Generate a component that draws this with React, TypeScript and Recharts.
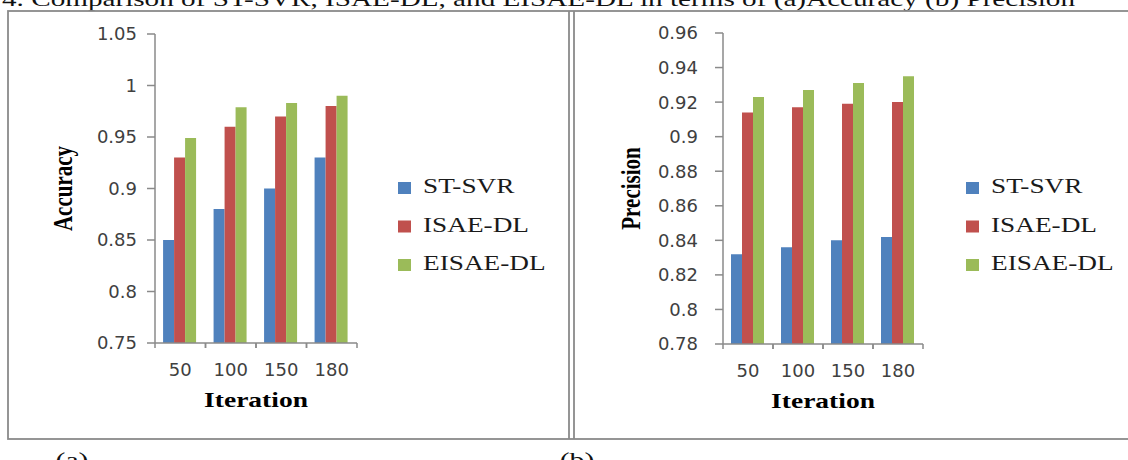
import React from 'react';
import { BarChart, Bar, XAxis, YAxis, Legend } from 'recharts';

const iterations = ['50', '100', '150', '180'];
const accStSvr = [0.85, 0.88, 0.9, 0.93];
const accIsae = [0.93, 0.96, 0.97, 0.98];
const accEisae = [0.949, 0.979, 0.983, 0.99];
const precStSvr = [0.832, 0.836, 0.84, 0.842];
const precIsae = [0.914, 0.917, 0.919, 0.92];
const precEisae = [0.923, 0.927, 0.931, 0.935];
const accTicks = [0.75, 0.8, 0.85, 0.9, 0.95, 1, 1.05];
const precTicks = [0.78, 0.8, 0.82, 0.84, 0.86, 0.88, 0.9, 0.92, 0.94, 0.96];
const seriesNames = ['ST-SVR', 'ISAE-DL', 'EISAE-DL'];
const seriesColors = ['#4F81BD', '#C0504D', '#9BBB59'];
const caption = '4. Comparison of ST-SVR, ISAE-DL, and EISAE-DL in terms of (a)Accuracy (b) Precision';

const accData = iterations.map((it, i) => ({ iteration: it, s0: accStSvr[i], s1: accIsae[i], s2: accEisae[i] }));
const precData = iterations.map((it, i) => ({ iteration: it, s0: precStSvr[i], s1: precIsae[i], s2: precEisae[i] }));

const AXIS = '#8a8a8a';
const SERIF = '"Liberation Serif", "Times New Roman", serif';
const SANS = '"DejaVu Sans", Verdana, sans-serif';

const fmt = (v: number) => String(Number(v.toFixed(2)));

const XTick = (props: any) => {
  const { x, y, payload, half } = props;
  const axisY = y - 5;
  return (
    <g>
      <line x1={x - half} x2={x - half} y1={axisY} y2={axisY + 5} stroke={AXIS} strokeWidth={1.5} />
      <line x1={x + half} x2={x + half} y1={axisY} y2={axisY + 5} stroke={AXIS} strokeWidth={1.5} />
      <text x={x} y={axisY + 33} textAnchor="middle" fontFamily={SANS} fontSize={18} fill="#404040">
        {payload.value}
      </text>
    </g>
  );
};

const YTitle = (props: any) => {
  const { viewBox, text, bx } = props;
  const cy = viewBox.y + viewBox.height / 2;
  const x = viewBox.x + bx;
  return (
    <text
      transform={`translate(${x},${cy}) rotate(-90) scale(1,1.3)`}
      textAnchor="middle"
      fontFamily={SERIF}
      fontWeight="bold"
      fontSize={21}
      fill="#000"
    >
      {text}
    </text>
  );
};

const XTitle = (props: any) => {
  const { viewBox, text, dy } = props;
  const cx = viewBox.x + viewBox.width / 2;
  return (
    <text
      transform={`translate(${cx},${viewBox.y + dy}) scale(1.31,1)`}
      textAnchor="middle"
      fontFamily={SERIF}
      fontWeight="bold"
      fontSize={21}
      fill="#000"
    >
      {text}
    </text>
  );
};

const LegendBox = (props: any) => {
  const payload = [...(props.payload || [])].sort(
    (a: any, b: any) => seriesNames.indexOf(a.value) - seriesNames.indexOf(b.value)
  );
  return (
    <svg width={180} height={110} style={{ display: 'block', overflow: 'visible' }}>
      {payload.map((e: any, i: number) => {
        const by = 23 + i * 38.5;
        return (
          <g key={e.value}>
            <rect x={0} y={by - 11} width={13} height={12} fill={e.color} />
            <text transform={`translate(25,${by}) scale(1.24,1)`} fontFamily={SERIF} fontSize={22} fill="#1a1a1a">
              {e.value}
            </text>
          </g>
        );
      })}
    </svg>
  );
};

type PanelProps = {
  data: any[];
  ticks: number[];
  yLabel: string;
  width: number;
  yAxisWidth: number;
  top: number;
  right: number;
  bottom: number;
  tickMargin: number;
  yLabelX: number;
  legendLeft: number;
  legendTop: number;
  plotWidth: number;
  xTitleDy: number;
};

const Panel = (p: PanelProps) => {
  const half = p.plotWidth / iterations.length / 2;
  return (
    <BarChart
      width={p.width}
      height={440}
      data={p.data}
      margin={{ top: p.top, right: p.right, bottom: p.bottom, left: 0 }}
      barGap={0}
      barCategoryGap="16%"
    >
      <XAxis
        dataKey="iteration"
        height={60}
        axisLine={{ stroke: AXIS, strokeWidth: 1.5 }}
        tickLine={false}
        tickSize={5}
        tickMargin={0}
        interval={0}
        tick={(tp: any) => <XTick {...tp} half={half} />}
        label={<XTitle text="Iteration" dy={64} />}
      />
      <YAxis
        width={p.yAxisWidth}
        domain={[p.ticks[0], p.ticks[p.ticks.length - 1]]}
        ticks={p.ticks}
        interval={0}
        tickFormatter={fmt}
        axisLine={{ stroke: AXIS, strokeWidth: 1.5 }}
        tickLine={{ stroke: AXIS, strokeWidth: 1.5 }}
        tickSize={8}
        tickMargin={p.tickMargin}
        tick={{ fontFamily: SANS, fontSize: 18, fill: '#404040' }}
        label={<YTitle text={p.yLabel} bx={p.yLabelX} />}
      />
      <Legend
        layout="vertical"
        align="center"
        verticalAlign="middle"
        wrapperStyle={{ left: p.legendLeft, top: p.legendTop, width: 180, height: 110 }}
        content={<LegendBox />}
      />
      {seriesNames.map((n, i) => (
        <Bar key={n} dataKey={`s${i}`} name={n} fill={seriesColors[i]} isAnimationActive={false} />
      ))}
    </BarChart>
  );
};

export default function App() {
  return (
    <div
      style={{
        position: 'absolute',
        left: 0,
        top: 0,
        width: 1128,
        height: 460,
        overflow: 'hidden',
        background: '#fff',
      }}
    >
      <svg width={1128} height={460} style={{ position: 'absolute', left: 0, top: 0 }}>
        <text x={2} y={6} fontFamily={SERIF} fontSize={22} fill="#111" textLength={1073} lengthAdjust="spacingAndGlyphs">
          {caption}
        </text>
        <rect x={8} y={11} width={1130} height={428} fill="none" stroke={AXIS} strokeWidth={1.8} />
        <line x1={569} x2={569} y1={11} y2={439} stroke={AXIS} strokeWidth={1.8} />
        <line x1={574} x2={574} y1={11} y2={439} stroke={AXIS} strokeWidth={1.8} />
        <text transform="translate(72,467) scale(1.35,1)" textAnchor="middle" fontFamily={SERIF} fontSize={22} fill="#111">
          (a)
        </text>
        <text transform="translate(577,467) scale(1.35,1)" textAnchor="middle" fontFamily={SERIF} fontSize={22} fill="#111">
          (b)
        </text>
      </svg>
      <div style={{ position: 'absolute', left: 0, top: 0 }}>
        <Panel
          data={accData}
          ticks={accTicks}
          yLabel="Accuracy"
          width={569}
          yAxisWidth={155}
          top={34}
          right={212}
          bottom={37}
          tickMargin={10}
          yLabelX={72}
          legendLeft={398}
          legendTop={170}
          plotWidth={202}
          xTitleDy={64}
        />
      </div>
      <div style={{ position: 'absolute', left: 574, top: 0 }}>
        <Panel
          data={precData}
          ticks={precTicks}
          yLabel="Precision"
          width={554}
          yAxisWidth={149}
          top={33}
          right={205}
          bottom={36}
          tickMargin={17}
          yLabelX={66}
          legendLeft={392}
          legendTop={170}
          plotWidth={200}
          xTitleDy={63}
        />
      </div>
    </div>
  );
}
